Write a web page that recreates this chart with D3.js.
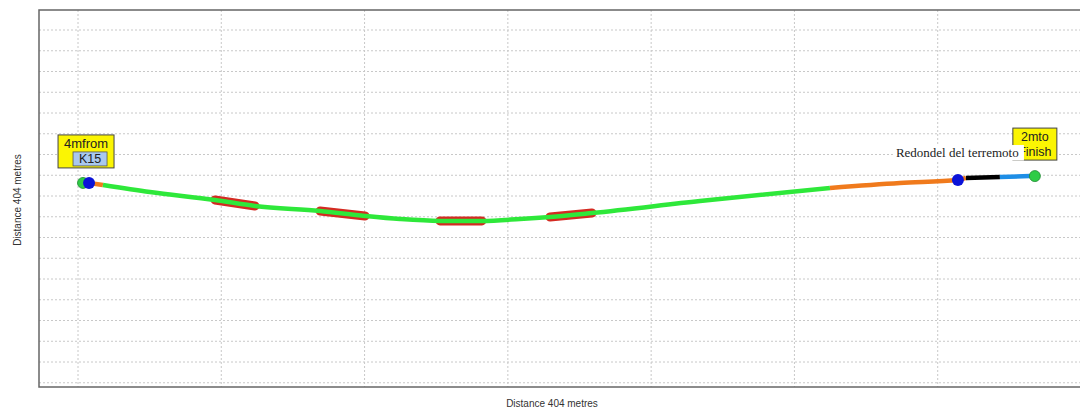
<!DOCTYPE html>
<html><head><meta charset="utf-8">
<script src="https://cdn.jsdelivr.net/npm/d3@7"></script>
<style>body{margin:0;background:#fff;}svg{display:block;}</style>
</head><body>
<svg id="c" width="1080" height="411"></svg>
<script>
// Route geometry (grid units)
const routeX = [0.77, 1.74, 5.02, 9.56, 12.35, 16.89, 20.03, 22.47, 25.26, 28.19, 30.84, 32.94, 35.87, 43.41, 52.48, 57.36, 61.41, 61.97, 64.34, 66.43];
const routeY = [8.63, 8.53, 8.19, 7.81, 7.52, 7.28, 7.04, 6.89, 6.80, 6.80, 6.89, 6.99, 7.18, 7.76, 8.39, 8.63, 8.77, 8.87, 8.92, 8.96];
// Route sections: [start index, end index, kind]
const sectionStart = [0, 1, 14, 17, 18];
const sectionEnd   = [1, 14, 17, 18, 19];
const sectionKind  = ["approach", "main", "exit", "link", "finish"];
// Highlighted (red) sections by route index
const redStart = [3, 5, 8, 11];
const redEnd   = [4, 6, 9, 12];
// Markers
const markerX = [0.35, 0.77, 61.41, 66.78];
const markerY = [8.63, 8.63, 8.77, 8.96];
const markerKind = ["green", "blue", "blue", "green"];
// Grid ticks
const xTicks = [0, 10, 20, 30, 40, 50, 60, 70];
const yTicks = [-1, 0, 1, 2, 3, 4, 5, 6, 7, 8, 9, 10, 11, 12, 13, 14, 15, 16];
// Texts
const axisTitleX = "Distance 404 metres";
const axisTitleY = "Distance 404 metres";
const startLabel = ["4mfrom", "K15"];
const endLabel = ["2mto", "Finish"];
const roadLabel = "Redondel del terremoto";

(function () {
const kindColor = {approach: "#f07a1c", main: "#2ee83a", exit: "#f07a1c", link: "#000000", finish: "#1e8ee6"};
const markerColor = {green: "#2ecc46", blue: "#0b12d8"};

const svg = d3.select("#c");
const x = d3.scaleLinear().domain([0, 70]).range([78, 1081]);
const y = d3.scaleLinear().domain([0, 16]).range([362, 30]);

const fL = 39, fT = 10, fB = 387, fR = 1081;

// grid
const g = svg.append("g");
g.selectAll("line.h").data(yTicks).join("line").attr("class", "h")
  .attr("x1", fL).attr("x2", fR)
  .attr("y1", d => y(d)).attr("y2", d => y(d))
  .attr("stroke", "#c8c8c8").attr("stroke-width", 1).attr("stroke-dasharray", "2,2");
g.selectAll("line.v").data(xTicks).join("line").attr("class", "v")
  .attr("y1", fT).attr("y2", fB)
  .attr("x1", d => x(d)).attr("x2", d => x(d))
  .attr("stroke", "#c8c8c8").attr("stroke-width", 1).attr("stroke-dasharray", "2,2");

// frame
svg.append("rect").attr("x", fL).attr("y", fT).attr("width", fR - fL + 5).attr("height", fB - fT)
  .attr("fill", "none").attr("stroke", "#666").attr("stroke-width", 1.5);

const pts = routeX.map((d, i) => [x(d), y(routeY[i])]);
const line = d3.line().curve(d3.curveMonotoneX);

// red highlights
redStart.forEach((s, i) => {
  svg.append("path").attr("d", line(pts.slice(s, redEnd[i] + 1)))
    .attr("fill", "none").attr("stroke", "#d42a22").attr("stroke-width", 9).attr("stroke-linecap", "round");
});

// sections
sectionStart.forEach((s, i) => {
  svg.append("path").attr("d", line(pts.slice(s, sectionEnd[i] + 1)))
    .attr("fill", "none").attr("stroke", kindColor[sectionKind[i]]).attr("stroke-width", 4.5);
});

// markers
markerX.forEach((d, i) => {
  svg.append("circle").attr("cx", x(d)).attr("cy", y(markerY[i])).attr("r", markerKind[i] === "blue" ? 6 : 5.5)
    .attr("fill", markerColor[markerKind[i]])
    .attr("stroke", markerKind[i] === "green" ? "#1d8a30" : "none").attr("stroke-width", 0.8);
});

const sans = "Liberation Sans, Arial, sans-serif";

// start label
const sp = [x(markerX[1]), y(markerY[1])];
svg.append("rect").attr("x", sp[0] - 31).attr("y", sp[1] - 48).attr("width", 56).attr("height", 33)
  .attr("fill", "#fbf503").attr("stroke", "#444").attr("stroke-width", 1);
svg.append("text").attr("x", sp[0] - 3).attr("y", sp[1] - 35).attr("text-anchor", "middle")
  .attr("font-family", sans).attr("font-size", 13).attr("fill", "#222").text(startLabel[0]);
svg.append("rect").attr("x", sp[0] - 16).attr("y", sp[1] - 31).attr("width", 34).attr("height", 14)
  .attr("fill", "#a9c8ee").attr("stroke", "#555").attr("stroke-width", 0.8);
svg.append("text").attr("x", sp[0] + 1).attr("y", sp[1] - 20).attr("text-anchor", "middle")
  .attr("font-family", sans).attr("font-size", 12.5).attr("fill", "#222").text(startLabel[1]);

// end label
const ep = [x(markerX[3]), y(markerY[3])];
svg.append("rect").attr("x", ep[0] - 22).attr("y", ep[1] - 48).attr("width", 44).attr("height", 32)
  .attr("fill", "#fbf503").attr("stroke", "#444").attr("stroke-width", 1);
svg.append("text").attr("x", ep[0]).attr("y", ep[1] - 35).attr("text-anchor", "middle")
  .attr("font-family", sans).attr("font-size", 12.5).attr("fill", "#222").text(endLabel[0]);
svg.append("text").attr("x", ep[0]).attr("y", ep[1] - 20).attr("text-anchor", "middle")
  .attr("font-family", sans).attr("font-size", 12.5).attr("fill", "#222").text(endLabel[1]);

// road label
const rp = [x(markerX[2]), y(markerY[2])];
svg.append("rect").attr("x", rp[0] - 65).attr("y", rp[1] - 35).attr("width", 131).attr("height", 15.5)
  .attr("fill", "#fff");
svg.append("text").attr("x", rp[0] - 62).attr("y", rp[1] - 23)
  .attr("font-family", "Liberation Serif, Times New Roman, serif").attr("font-size", 13)
  .attr("fill", "#222").text(roadLabel);

// axis titles
svg.append("text").attr("x", 552).attr("y", 407).attr("text-anchor", "middle")
  .attr("font-family", sans).attr("font-size", 10).attr("fill", "#333").text(axisTitleX);
svg.append("text").attr("transform", "translate(21,200) rotate(-90)").attr("text-anchor", "middle")
  .attr("font-family", sans).attr("font-size", 10).attr("fill", "#333").text(axisTitleY);
})();
</script>
</body></html>
